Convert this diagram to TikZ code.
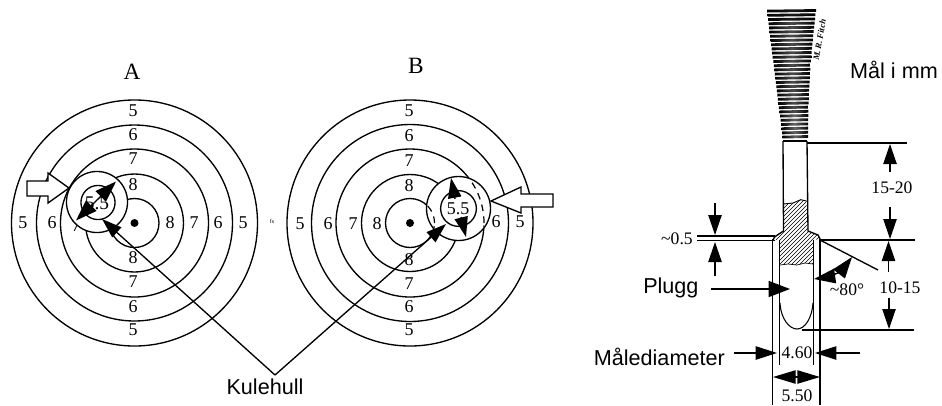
\documentclass[tikz,border=0pt]{standalone}
\usepackage{fontspec}
\setmainfont{Liberation Serif}
\newfontfamily\arialf{Liberation Sans}
\usetikzlibrary{arrows.meta}
\tikzset{
  ring/.style={draw=black,line width=1pt},
  holeo/.style={draw=black,line width=1pt,fill=white},
  num/.style={inner sep=0pt,font=\fontsize{13.5}{15}\selectfont},
  dimt/.style={inner sep=0pt,font=\fontsize{13.2}{15}\selectfont},
  big/.style={inner sep=0pt,font=\fontsize{17.5}{19}\selectfont},
  sans/.style={inner sep=0pt,font=\arialf\fontsize{16.2}{18}\selectfont},
  ln/.style={line width=1pt,draw=black},
  thin/.style={line width=.7pt,draw=black},
  arr/.style={line width=1pt,-{Triangle[length=15pt,width=10pt]}},
  darr/.style={line width=1pt,{Triangle[length=16pt,width=11pt]}-{Triangle[length=16pt,width=11pt]}},
  blockarrow/.style={draw=black,line width=1pt,fill=white,line join=miter},
}
\begin{document}
\begin{tikzpicture}[x=0.75pt,y=-0.75pt]
\useasboundingbox (0,0) rectangle (942,405);
% ---------- target A
\foreach \r in {123,98,74,49,24.5}{\draw[ring] (134.5,223) circle[radius=\r*0.75pt];}
\fill (134.5,223) circle[radius=3pt];
\node[big] (labA) at (132,72) {A};
\node[num] (a5t) at (133,111) {5};
\node[num] (a6t) at (133,135) {6};
\node[num] (a7t) at (133,159) {7};
\node[num] (a8t) at (133,185) {8};
\node[num] (a8b) at (133,258) {8};
\node[num] (a7b) at (133,282) {7};
\node[num] (a6b) at (133,307) {6};
\node[num] (a5b) at (133,330) {5};
\node[num] (a5l) at (23,223) {5};
\node[num] (a6l) at (52,223) {6};
\node[num] (a7l) at (76,226) {7};
\node[num] (a8r) at (170,223) {8};
\node[num] (a7r) at (194,223) {7};
\node[num] (a6r) at (218,223) {6};
\node[num] (a5r) at (243,223) {5};
\draw[holeo] (97,202) circle[radius=22.9pt];
\draw[holeo] (98,202.5) circle[radius=12.8pt];
\node[num,font=\fontsize{14.5}{16}\selectfont] (a55) at (97,203) {5.5};
\coordinate (aD1) at (76,220.5);
\coordinate (aD2) at (116,181.5);
\draw[darr] (aD1) -- (aD2);
\draw[blockarrow] (27,181) -- (48,181) -- (48,173) -- (69,188) -- (48,203) -- (48,196) -- (27,196) -- cycle;
\node[inner sep=0pt,font=\fontsize{4.5}{5}\selectfont] (fs) at (272,221) {fs};
% ---------- target B
\foreach \r in {123,98.5,74,48.5,24.5}{\draw[ring] (410,223) circle[radius=\r*0.75pt];}
\fill (410,223) circle[radius=3pt];
\node[big] (labB) at (416,66) {B};
\node[num] (b5t) at (409,111) {5};
\node[num] (b6t) at (409,136) {6};
\node[num] (b7t) at (409,161) {7};
\node[num] (b8t) at (409,186) {8};
\node[num] (b8b) at (409,260) {8};
\node[num] (b7b) at (409,284) {7};
\node[num] (b6b) at (409,307) {6};
\node[num] (b5b) at (409,330) {5};
\node[num] (b5l) at (300,224) {5};
\node[num] (b6l) at (328,224) {6};
\node[num] (b7l) at (353,224) {7};
\node[num] (b8l) at (377,224) {8};
\node[num] (b6r) at (496,222) {6};
\node[num] (b5r) at (520,222) {5};
\draw[holeo] (458.5,208.5) circle[radius=24pt];
\begin{scope}
  \clip (458.5,208.5) circle[radius=23.4pt];
  \draw[line width=.9pt,dash pattern=on 5pt off 4pt] (410,223) circle[radius=55.5pt];
  \draw[line width=.9pt,dash pattern=on 5pt off 4pt] (410,223) circle[radius=18.4pt];
\end{scope}
\draw[holeo] (458.5,208.5) circle[radius=13.4pt];
\node[num,font=\fontsize{13.5}{15}\selectfont] (b55) at (458,209) {5.5};
\coordinate (bU0) at (455,199);
\coordinate (bU1) at (451,178);
\coordinate (bD0) at (461,217);
\coordinate (bD1) at (466,237);
\draw[arr] (bU0) -- (bU1);
\draw[arr] (bD0) -- (bD1);
\draw[blockarrow] (553,194) -- (521,194) -- (521,187) -- (491,201) -- (521,213) -- (521,207) -- (553,207) -- cycle;
% ---------- Kulehull
\node[sans] (kule) at (265,387) {Kulehull};
\coordinate (kv) at (275,375);
\coordinate (kA) at (102,219);
\coordinate (kB) at (446,224);
\draw[arr] (kv) -- (kA);
\draw[arr] (kv) -- (kB);
% ---------- thread
\foreach \i in {0,...,30}{
  \pgfmathsetmacro{\yy}{11+\i*4.2}
  \pgfmathsetmacro{\xl}{767+0.124*(\yy-11)}
  \pgfmathsetmacro{\xr}{808+8*((140-\yy)/129)^2}
  \pgfmathsetmacro{\mc}{ifthenelse(\i<3,90,ifthenelse(\i>24,60,70))}
  \shade[left color=black,right color=black,middle color=black!\mc!white]
     (\xl,\yy-1.3) -- (\xr,\yy-1.9) -- (\xr,\yy+.9) -- (\xl,\yy+1.5) -- cycle;
}
\node[inner sep=0pt,rotate=80,font=\itshape\bfseries\fontsize{6.5}{7}\selectfont] (sig) at (819.5,40) {M. R. Fitch};
% ---------- hatched part
\begin{scope}
  \clip (783.3,204) -- (793,203) -- (800.7,199.7) -- (806.5,201) -- (808,231) -- (818,235) -- (820,239)
     -- (813,240) -- (813,264) -- (805,263) -- (797,265) -- (788,264) -- (780,265) -- (780,240) -- (773,240) -- (775,236) -- (783,231) -- cycle;
  \foreach \k in {0,...,45}{\draw[line width=.35pt] (700+\k*4,280) -- (800+\k*4,180);}
\end{scope}
\draw[thin] (783.3,204) -- (793,203) -- (800.7,199.7) -- (806.5,201);
\draw[thin,line width=.5pt] (780,265) -- (788,264) -- (797,265) -- (805,263) -- (813,264);
% shank and flange
\draw[ln] (783,141) -- (807,141);
\draw[ln] (783,141) -- (783.5,231) -- (774.5,237) -- (773,240);
\draw[ln] (807,141) -- (808,231) -- (818,235) -- (820,239);
% plug
\draw[line width=.8pt] (779.5,240) -- (779.5,365);
\draw[line width=.8pt] (813.5,240) -- (813.5,365);
\draw[line width=.8pt] (780,303) .. controls (781,320) and (790,329) .. (797,329) .. controls (805,329) and (812,318) .. (813,303);
% cylinder walls
\draw[ln] (772.7,239) -- (772.7,405);
\draw[ln] (820,239) -- (820,405);
% ---------- dimensions
\coordinate (d1a) at (697,236);
\coordinate (d1b) at (775,236);
\coordinate (d2a) at (697,240.7);
\coordinate (d2b) at (775,240.7);
\draw[ln] (d1a) -- (d1b);
\draw[ln] (d2a) -- (d2b);
\coordinate (u05a) at (715,203);
\coordinate (u05b) at (715,235);
\coordinate (l05a) at (715,276);
\coordinate (l05b) at (715,242);
\draw[arr] (u05a) -- (u05b);
\draw[arr] (l05a) -- (l05b);
\node[dimt,anchor=east] (t05) at (693,239) {\textasciitilde 0.5};
\node[sans,anchor=west] (plugg) at (643,288) {Plugg};
\coordinate (pg) at (711,289);
\coordinate (pgt) at (790,289);
\draw[line width=1pt,-{Triangle[length=16pt,width=12pt]}] (pg) -- (pgt);
\node[sans,anchor=east] (male) at (725,357) {Målediameter};
\coordinate (m1) at (734,353);
\coordinate (m1t) at (777,353);
\coordinate (m2) at (860,353);
\coordinate (m2t) at (815,353);
\draw[line width=1pt,-{Triangle[length=16pt,width=10pt]}] (m1) -- (m1t);
\draw[line width=1pt,-{Triangle[length=16pt,width=10pt]}] (m2) -- (m2t);
\node[dimt] (t46) at (797,353) {4.60};
\coordinate (c55) at (796.5,377);
\coordinate (c55l) at (773,377);
\coordinate (c55r) at (820,377);
\draw[line width=1pt,-{Triangle[length=17pt,width=10pt]}] (c55) -- (c55l);
\draw[line width=1pt,-{Triangle[length=17pt,width=10pt]}] (c55) -- (c55r);
\node[dimt] (t55) at (797,396) {5.50};
% right side dimensions
\coordinate (rt0) at (807,143);
\coordinate (rt1) at (907,143);
\coordinate (rm0) at (820,240);
\coordinate (rm1) at (915,240);
\coordinate (rb0) at (802,330);
\coordinate (rb1) at (914,330);
\draw[ln] (rt0) -- (rt1);
\draw[ln] (rm0) -- (rm1);
\draw[ln] (rb0) -- (rb1);
\coordinate (a1) at (890,172);
\coordinate (a1t) at (890,144);
\coordinate (a2) at (890,207);
\coordinate (a2t) at (890,239);
\coordinate (a3) at (888.5,272);
\coordinate (a3t) at (888.5,241);
\coordinate (a4) at (889,298);
\coordinate (a4t) at (889,329);
\draw[arr] (a1) -- (a1t);
\draw[arr] (a2) -- (a2t);
\draw[arr] (a3) -- (a3t);
\draw[arr] (a4) -- (a4t);
\node[dimt] (t1520) at (892,188) {15-20};
\node[dimt] (t1015) at (900,288) {10-15};
\node[sans] (mal) at (894,70) {Mål i mm};
% angle
\coordinate (s0) at (820,240);
\coordinate (s1) at (878,270);
\draw[ln] (s0) -- (s1);
\coordinate (w1) at (814,279);
\coordinate (w2) at (852,257);
\draw[darr] (w1) .. controls (828,277) and (842,270) .. (w2);
\node[dimt] (t80) at (847,290) {\textasciitilde 80°};
\end{tikzpicture}
\end{document}
